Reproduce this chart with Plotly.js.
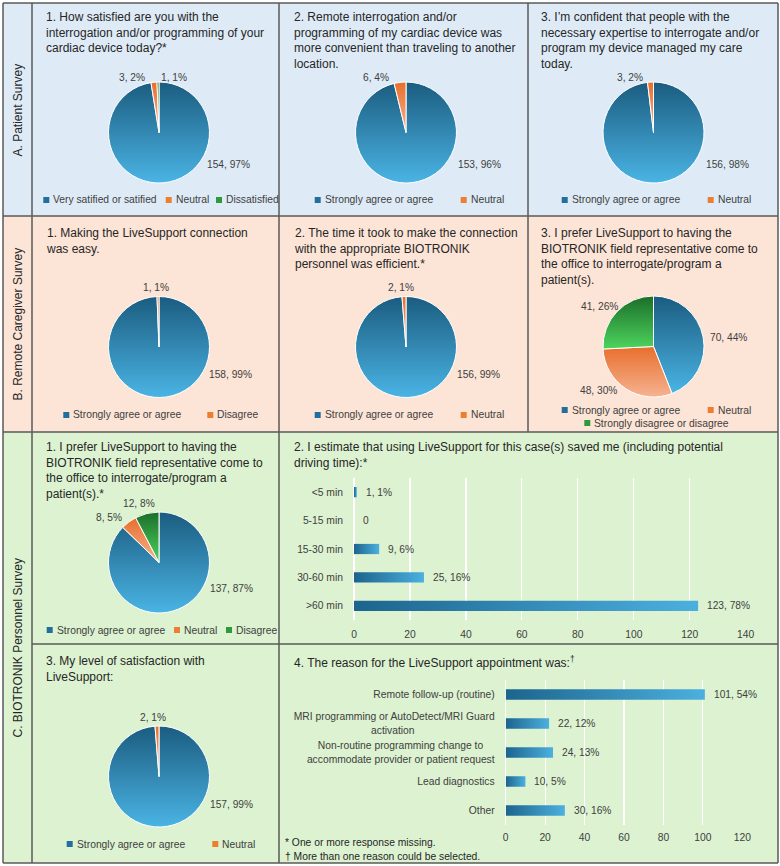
<!DOCTYPE html>
<html>
<head>
<meta charset="utf-8">
<script src="https://cdn.plot.ly/plotly-3.0.1.min.js"></script>
<style>html,body{margin:0;padding:0;background:#fff;}#chart{width:780px;height:866px;}</style>
</head>
<body>
<div id="chart"></div>
<script>
// ---------------- DATA ----------------
const rowLabels = ['A. Patient Survey', 'B. Remote Caregiver Survey', 'C. BIOTRONIK Personnel Survey'];

const a1Title = '1. How satisfied are you with the<br>interrogation and/or programming of your<br>cardiac device today?*';
const a1Labels = ['Very satified or satified', 'Neutral', 'Dissatisfied'];
const a1Values = [154, 3, 1];

const a2Title = '2. Remote interrogation and/or<br>programming of my cardiac device was<br>more convenient than traveling to another<br>location.';
const a2Labels = ['Strongly agree or agree', 'Neutral'];
const a2Values = [153, 6];

const a3Title = '3. I’m confident that people with the<br>necessary expertise to interrogate and/or<br>program my device managed my care<br>today.';
const a3Labels = ['Strongly agree or agree', 'Neutral'];
const a3Values = [156, 3];

const b1Title = '1. Making the LiveSupport connection<br>was easy.';
const b1Labels = ['Strongly agree or agree', 'Disagree'];
const b1Values = [158, 1];

const b2Title = '2. The time it took to make the connection<br>with the appropriate BIOTRONIK<br>personnel was efficient.*';
const b2Labels = ['Strongly agree or agree', 'Neutral'];
const b2Values = [156, 2];

const b3Title = '3. I prefer LiveSupport to having the<br>BIOTRONIK field representative come to<br>the office to interrogate/program a<br>patient(s).';
const b3Labels = ['Strongly agree or agree', 'Neutral', 'Strongly disagree or disagree'];
const b3Values = [70, 48, 41];

const c1Title = '1. I prefer LiveSupport to having the<br>BIOTRONIK field representative come to<br>the office to interrogate/program a<br>patient(s).*';
const c1Labels = ['Strongly agree or agree', 'Neutral', 'Disagree'];
const c1Values = [137, 8, 12];

const c2Title = '2. I estimate that using LiveSupport for this case(s) saved me (including potential<br>driving time):*';
const timeCats = ['<5 min', '5-15 min', '15-30 min', '30-60 min', '>60 min'];
const timeValues = [1, 0, 9, 25, 123];
const timeTicks = [0, 20, 40, 60, 80, 100, 120, 140];

const c3Title = '3. My level of satisfaction with<br>LiveSupport:';
const c3Labels = ['Strongly agree or agree', 'Neutral'];
const c3Values = [157, 2];

const c4Title = '4. The reason for the LiveSupport appointment was:<sup>†</sup>';
const reasonCats = ['Remote follow-up (routine)', 'MRI programming or AutoDetect/MRI Guard<br>activation', 'Non-routine programming change to<br>accommodate provider or patient request', 'Lead diagnostics', 'Other'];
const reasonValues = [101, 22, 24, 10, 30];
const reasonTicks = [0, 20, 40, 60, 80, 100, 120];

const footnotes = ['* One or more response missing.', '† More than one reason could be selected.'];

// ---------------- STYLE / LAYOUT ----------------
const W = 780, H = 866;
const FONT = '"Liberation Sans", Arial, sans-serif';
const TXT = '#404040', TITLE = '#262626';
const BLUE = '#2e86b8', ORANGE = '#ee8a55', GREEN = '#37a846';
const LBLUE = '#226e9c', LORANGE = '#ed7d31', LGREEN = '#2e9a3c';
const BG_A = '#deebf7', BG_B = '#fce4d6', BG_C = '#dcf2d0';
const LINE = '#5a5a5a';
const TICK_SIZE = 10.3;

const px = x => x / W;
const py = y => 1 - y / H;

function pct(v, arr) { const s = arr.reduce((a, b) => a + b, 0); return Math.round(100 * v / s); }
function lab(v, arr) { return v === 0 ? '0' : v + ', ' + pct(v, arr) + '%'; }

// centre the lines of a multi-line (right-anchored) tick label, as the original does
function centerLines(label) {
  const lines = label.split('<br>');
  if (lines.length < 2) return label;
  const ctx = document.createElement('canvas').getContext('2d');
  ctx.font = TICK_SIZE + 'px "Liberation Sans", Arial, sans-serif';
  const w = lines.map(l => ctx.measureText(l).width);
  const M = Math.max(...w);
  const sp = ctx.measureText('\u00a0').width;
  return lines.map((l, i) => l + '\u00a0'.repeat(Math.round((M - w[i]) / 2 / sp))).join('<br>');
}

const R = 50.5;
const pies = [
  { title: a1Title, tx: 45, ty: 17, labels: a1Labels, values: a1Values, colors: [BLUE, ORANGE, GREEN], lcolors: [LBLUE, LORANGE, LGREEN],
    cx: 159, cy: 132.5, lxy: [[228.7, 164], [131.7, 77], [174, 77]], leg: [[43.3, 200], [165.7, 200], [216, 200]] },
  { title: a2Title, tx: 292.7, ty: 17, labels: a2Labels, values: a2Values, colors: [BLUE, ORANGE], lcolors: [LBLUE, LORANGE],
    cx: 406, cy: 132.5, lxy: [[479, 164], [376, 77]], leg: [[314.7, 200], [460.7, 200]] },
  { title: a3Title, tx: 540, ty: 17, labels: a3Labels, values: a3Values, colors: [BLUE, ORANGE], lcolors: [LBLUE, LORANGE],
    cx: 653.5, cy: 132.5, lxy: [[727, 164], [630, 77]], leg: [[561.7, 200], [707.7, 200]] },
  { title: b1Title, tx: 45, ty: 233, labels: b1Labels, values: b1Values, colors: [BLUE, ORANGE], lcolors: [LBLUE, LORANGE],
    cx: 159, cy: 347, lxy: [[230, 374], [156, 287]], leg: [[63.3, 415], [207.3, 415]] },
  { title: b2Title, tx: 292.7, ty: 233, labels: b2Labels, values: b2Values, colors: [BLUE, ORANGE], lcolors: [LBLUE, LORANGE],
    cx: 406, cy: 347, lxy: [[478, 374], [401, 287]], leg: [[314.7, 415], [460.7, 415]] },
  { title: b3Title, tx: 540, ty: 233, labels: b3Labels, values: b3Values, colors: [BLUE, ORANGE, GREEN], lcolors: [LBLUE, LORANGE, LGREEN],
    cx: 653.5, cy: 346.5, lxy: [[728, 337], [598, 390], [599, 307]], leg: [[561.7, 410], [707.7, 410], [584.3, 423]] },
  { title: c1Title, tx: 45, ty: 447, labels: c1Labels, values: c1Values, colors: [BLUE, ORANGE, GREEN], lcolors: [LBLUE, LORANGE, LGREEN],
    cx: 159, cy: 562.5, lxy: [[231, 588], [109, 517], [139, 503]], leg: [[46.7, 630], [174, 630], [226, 630]] },
  { title: c3Title, tx: 45, ty: 661, labels: c3Labels, values: c3Values, colors: [BLUE, ORANGE], lcolors: [LBLUE, LORANGE],
    cx: 159, cy: 776.5, lxy: [[231, 804], [153, 717]], leg: [[66.7, 844], [212.3, 844]] }
];

const traces = [];
const annotations = [];
const shapes = [];

// backgrounds
shapes.push({ type: 'rect', xref: 'paper', yref: 'paper', x0: px(3), x1: px(778), y0: py(3), y1: py(216), fillcolor: BG_A, line: { width: 0 }, layer: 'below' });
shapes.push({ type: 'rect', xref: 'paper', yref: 'paper', x0: px(3), x1: px(778), y0: py(216), y1: py(432), fillcolor: BG_B, line: { width: 0 }, layer: 'below' });
shapes.push({ type: 'rect', xref: 'paper', yref: 'paper', x0: px(3), x1: px(778), y0: py(432), y1: py(863), fillcolor: BG_C, line: { width: 0 }, layer: 'below' });

// table rules
function seg(x0, y0, x1, y1) {
  shapes.push({ type: 'line', xref: 'paper', yref: 'paper', x0: px(x0), y0: py(y0), x1: px(x1), y1: py(y1), line: { color: LINE, width: 1.5 }, layer: 'above' });
}
seg(3, 3, 778, 3); seg(3, 863, 778, 863); seg(3, 3, 3, 863); seg(778, 3, 778, 863);
seg(32, 3, 32, 863); seg(279, 3, 279, 863); seg(528, 3, 528, 432);
seg(3, 216, 778, 216); seg(3, 432, 778, 432); seg(32, 644, 778, 644);

// row labels
const rowCenters = [110, 324, 648];
rowLabels.forEach((t, i) => annotations.push({ xref: 'paper', yref: 'paper', x: px(17.5), y: py(rowCenters[i]), text: t, textangle: -90,
  showarrow: false, xanchor: 'center', yanchor: 'middle', font: { family: FONT, size: 12, color: TITLE } }));

function title(text, x, yc) {
  annotations.push({ xref: 'paper', yref: 'paper', x: px(x - 1), y: py(yc - 9), text: text, showarrow: false, xanchor: 'left', yanchor: 'top',
    align: 'left', font: { family: FONT, size: 12, color: TITLE } });
}

pies.forEach(p => {
  traces.push({
    type: 'pie', labels: p.labels, values: p.values, sort: false, direction: 'clockwise', rotation: 0,
    textinfo: 'none', showlegend: false, hoverinfo: 'label+value+percent',
    marker: { colors: p.colors, line: { color: '#ffffff', width: 1 } },
    domain: { x: [px(p.cx - R), px(p.cx + R)], y: [py(p.cy + R), py(p.cy - R)] }
  });
  title(p.title, p.tx, p.ty);
  p.values.forEach((v, i) => {
    annotations.push({ xref: 'paper', yref: 'paper', x: px(p.lxy[i][0]), y: py(p.lxy[i][1]), text: lab(v, p.values), showarrow: false,
      xanchor: 'center', yanchor: 'middle', font: { family: FONT, size: 10.2, color: TXT } });
    const [sx, sy] = p.leg[i];
    shapes.push({ type: 'rect', xref: 'paper', yref: 'paper', x0: px(sx), x1: px(sx + 6), y0: py(sy + 3), y1: py(sy - 3), fillcolor: p.lcolors[i], line: { width: 0 } });
    annotations.push({ xref: 'paper', yref: 'paper', x: px(sx + 8), y: py(sy), text: p.labels[i], showarrow: false,
      xanchor: 'left', yanchor: 'middle', font: { family: FONT, size: 10.3, color: TXT } });
  });
});

// bar charts
title(c2Title, 292.7, 447);
title(c4Title, 292.7, 661);

const BARC = '#2a80b2';
const barMarker = { color: BARC, line: { width: 0 } };
traces.push({ type: 'bar', orientation: 'h', x: timeValues, y: timeCats, xaxis: 'x', yaxis: 'y', width: 0.36, marker: barMarker, showlegend: false, hoverinfo: 'x+y' });
traces.push({ type: 'bar', orientation: 'h', x: reasonValues, y: reasonCats.map(centerLines), xaxis: 'x2', yaxis: 'y2', width: 0.36, marker: barMarker, showlegend: false, hoverinfo: 'x' });

timeValues.forEach((v, i) => annotations.push({ xref: 'x', yref: 'y', x: v, y: i, text: lab(v, timeValues), showarrow: false,
  xanchor: 'left', yanchor: 'middle', xshift: 7, font: { family: FONT, size: 10.2, color: TXT } }));
reasonValues.forEach((v, i) => annotations.push({ xref: 'x2', yref: 'y2', x: v, y: i, text: lab(v, reasonValues), showarrow: false,
  xanchor: 'left', yanchor: 'middle', xshift: 7, font: { family: FONT, size: 10.2, color: TXT } }));

footnotes.forEach((t, i) => annotations.push({ xref: 'paper', yref: 'paper', x: px(283), y: py(842 + i * 14), text: t, showarrow: false,
  xanchor: 'left', yanchor: 'middle', font: { family: FONT, size: 10.3, color: TITLE } }));

const xax = (dom, max, ticks, anchor, tl) => ({
  domain: dom, range: [0, max], tickvals: ticks, showgrid: true, gridcolor: '#ffffff', gridwidth: 1.2,
  zeroline: true, zerolinecolor: '#ffffff', zerolinewidth: 1.2, showline: false, ticks: 'outside', ticklen: tl, tickcolor: 'rgba(0,0,0,0)',
  tickfont: { family: FONT, size: TICK_SIZE, color: TXT }, anchor: anchor, fixedrange: true
});
const yax = (dom, anchor) => ({
  domain: dom, autorange: 'reversed', type: 'category', showgrid: false, zeroline: false, showline: false,
  ticks: 'outside', ticklen: 8, tickcolor: 'rgba(0,0,0,0)', tickfont: { family: FONT, size: TICK_SIZE, color: TXT }, anchor: anchor, fixedrange: true
});

const layout = {
  width: W, height: H, autosize: false,
  margin: { l: 0, r: 0, t: 0, b: 0, pad: 0 },
  paper_bgcolor: '#ffffff', plot_bgcolor: 'rgba(0,0,0,0)',
  font: { family: FONT, color: TXT },
  showlegend: false,
  xaxis: xax([px(354), px(745.7)], 140, timeTicks, 'y', 5),
  yaxis: yax([py(620), py(478)], 'x'),
  xaxis2: xax([px(505.7), px(742.3)], 120, reasonTicks, 'y2', 3),
  yaxis2: yax([py(825), py(680)], 'x2'),
  shapes: shapes,
  annotations: annotations
};

// shaded (gradient) fills like the original Office chart styling
function hexRgb(h) {
  const n = parseInt(h.slice(1), 16);
  return 'rgb(' + (n >> 16 & 255) + ', ' + (n >> 8 & 255) + ', ' + (n & 255) + ')';
}
const gradients = [
  { id: 'gBlue', from: '#1b5c80', to: '#4ab4e4', color: BLUE, horiz: false },
  { id: 'gOrange', from: '#e86e2c', to: '#f6b391', color: ORANGE, horiz: false },
  { id: 'gGreen', from: '#1b6e29', to: '#4dd45d', color: GREEN, horiz: false },
  { id: 'gBar', from: '#1c648d', to: '#4cb0df', color: BARC, horiz: true }
];

Plotly.newPlot('chart', traces, layout, { displayModeBar: false, staticPlot: true }).then(gd => {
  const NS = 'http://www.w3.org/2000/svg';
  const svg = gd.querySelector('svg.main-svg');
  let defs = svg.querySelector('defs');
  if (!defs) { defs = document.createElementNS(NS, 'defs'); svg.insertBefore(defs, svg.firstChild); }
  const map = {};
  gradients.forEach(g => {
    const lg = document.createElementNS(NS, 'linearGradient');
    lg.setAttribute('id', g.id);
    lg.setAttribute('x1', '0'); lg.setAttribute('y1', '0');
    lg.setAttribute('x2', g.horiz ? '1' : '0'); lg.setAttribute('y2', g.horiz ? '0' : '1');
    [[0, g.from], [1, g.to]].forEach(([o, c]) => {
      const s = document.createElementNS(NS, 'stop');
      s.setAttribute('offset', o); s.setAttribute('stop-color', c);
      lg.appendChild(s);
    });
    defs.appendChild(lg);
    map[hexRgb(g.color)] = g.id;
  });
  gd.querySelectorAll('g.pielayer path.surface, g.barlayer path').forEach(p => {
    const id = map[p.style.fill];
    if (id) p.style.fill = 'url(#' + id + ')';
  });
});
</script>
</body>
</html>
